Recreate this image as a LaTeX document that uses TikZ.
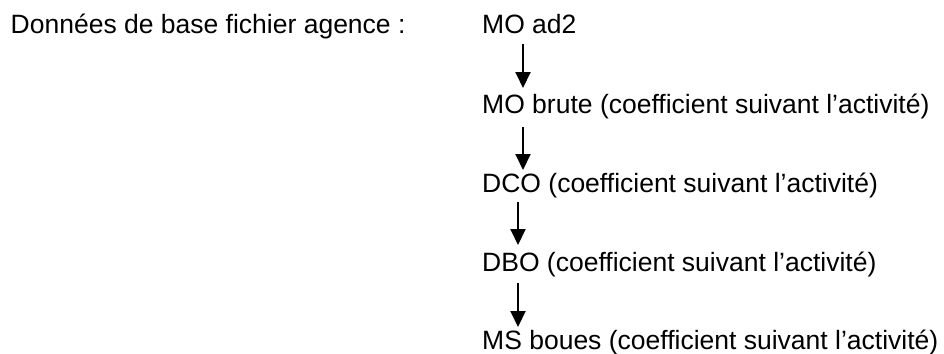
\documentclass[tikz,border=0pt]{standalone}
\usepackage{fontspec}
\setmainfont{Liberation Sans}
\usetikzlibrary{arrows.meta,calc}
\begin{document}
\begin{tikzpicture}[x=1pt,y=-1pt,
  lbl/.style={anchor=base west,inner sep=0pt,font=\fontsize{26.5}{30}\selectfont},
  arr/.style={line width=2pt,-{Triangle[width=15pt,length=16pt]}}]
\useasboundingbox (0,0) rectangle (944,353);
\node[lbl] (t) at (10.5,34) {Données de base fichier agence :};
\node[lbl] (n1) at (482,34) {MO ad2};
\node[lbl] (n2) at (482,113) {MO brute (coefficient suivant l’activité)};
\node[lbl] (n3) at (482,192) {DCO (coefficient suivant l’activité)};
\node[lbl] (n4) at (482,271) {DBO (coefficient suivant l’activité)};
\node[lbl] (n5) at (482,349) {MS boues (coefficient suivant l’activité)};
\draw[arr] ($(n1.base west)+(41,10)$) -- ($(n2.base west)+(41,-25)$);
\draw[arr] ($(n2.base west)+(41,14)$) -- ($(n3.base west)+(41,-22)$);
\draw[arr] ($(n3.base west)+(36,10)$) -- ($(n4.base west)+(36,-26)$);
\draw[arr] ($(n4.base west)+(36,12)$) -- ($(n5.base west)+(36,-22)$);
\end{tikzpicture}
\end{document}
